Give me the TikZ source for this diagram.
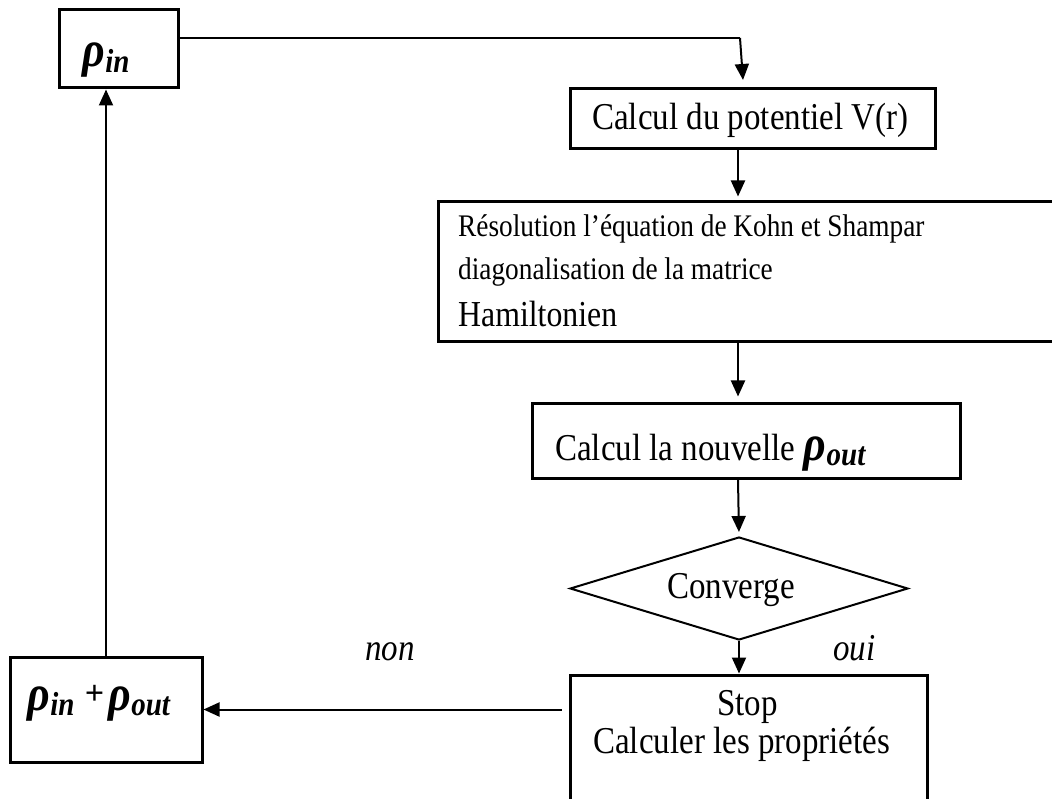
\documentclass[tikz,border=0pt]{standalone}
\usepackage{fontspec}
\setmainfont{Liberation Serif}
\usetikzlibrary{shapes.geometric,arrows.meta}
\newcommand{\vs}[1]{\scalebox{1}[1.15]{#1}}
\newcommand{\rhosub}[1]{{\bfseries\itshape\fontsize{44}{44}\selectfont ρ\kern0.5pt\raisebox{-5pt}{\fontsize{29}{29}\selectfont #1}}}
\begin{document}
\begin{tikzpicture}[x=1pt,y=-1pt,
  box/.style={draw,line width=3pt,inner sep=0pt,rectangle},
  conn/.style={line width=2pt},
  arr/.style={conn,-{Triangle[length=16pt,width=14pt]}},
  txt/.style={inner sep=0pt,anchor=base west,font=\fontsize{33}{33}\selectfont},
  small/.style={inner sep=0pt,anchor=base west,font=\fontsize{27.3}{27.3}\selectfont}]
\useasboundingbox (0,0) rectangle (1052,799);
\begin{scope}
\clip (0,0) rectangle (1052,799);
% boxes
\node[box,minimum width=119pt,minimum height=78pt] (rin) at (118.5,49) {};
\node[box,minimum width=365pt,minimum height=60pt] (calcv) at (752.5,119) {};
\node[box,minimum width=622pt,minimum height=140pt] (resol) at (749,272) {};
\node[box,minimum width=428pt,minimum height=75pt] (rout) at (746,440.5) {};
\node[draw,line width=2pt,diamond,inner sep=0pt,minimum width=338pt,minimum height=103pt] (conv) at (739,588.5) {};
\node[box,minimum width=357pt,minimum height=170pt] (stop) at (748.5,760) {};
\node[box,minimum width=192pt,minimum height=105pt] (rsum) at (106,709.5) {};
\end{scope}
% texts
\node[inner sep=0pt,anchor=base west] (trin) at (82,67) {\vs{\rhosub{in}}};
\node[txt] (tcalcv) at (592,130) {\vs{Calcul du potentiel V(r)}};
\node[small] (tres1) at (458,237) {\vs{Résolution l’équation de Kohn et Shampar}};
\node[small] (tres2) at (458,280) {\vs{diagonalisation de la matrice}};
\node[inner sep=0pt,anchor=base west,font=\fontsize{31.8}{31.8}\selectfont] (tres3) at (458,327) {\vs{Hamiltonien}};
\node[txt] (trout) at (555,460) {\vs{Calcul la nouvelle \rhosub{out}}};
\node[txt] (tconv) at (667,598) {\vs{Converge}};
\node[txt,font=\fontsize{33}{33}\selectfont\itshape] (toui) at (833,660) {\vs{oui}};
\node[txt,font=\fontsize{33}{33}\selectfont\itshape] (tnon) at (365,660) {\vs{non}};
\node[txt] (tstop) at (717,715) {\vs{Stop}};
\node[txt] (tprop) at (593,753) {\vs{Calculer les propriétés}};
\node[inner sep=0pt,anchor=base west] (trsum1) at (27,710) {\vs{\rhosub{in}}};
\node[inner sep=0pt,font=\fontsize{34}{34}\selectfont\bfseries] (tplus) at (94.5,695) {+};
\node[inner sep=0pt,anchor=base west] (trsum2) at (108,710) {\vs{\rhosub{out}}};
% connectors
\coordinate (axis) at (738,0);
\coordinate (bend) at (740,38);
\coordinate (tip) at (743,80);
\draw[conn] ([yshift=11pt]rin.east) -- (bend);
\draw[arr] (bend) -- (tip);
\draw[arr,shorten >=4pt] (calcv.south -| axis) -- (resol.north -| axis);
\draw[arr,shorten >=5pt] (resol.south -| axis) -- (rout.north -| axis);
\draw[arr,shorten >=4pt] (rout.south -| axis) -- (conv.north);
\draw[arr] (conv.south) -- (stop.north -| conv.south);
\draw[arr,shorten <=7pt] (rsum.east -| stop.west) -- (rsum.east);
\draw[arr] (rsum.north) -- (rin.south -| rsum.north);
\end{tikzpicture}
\end{document}
